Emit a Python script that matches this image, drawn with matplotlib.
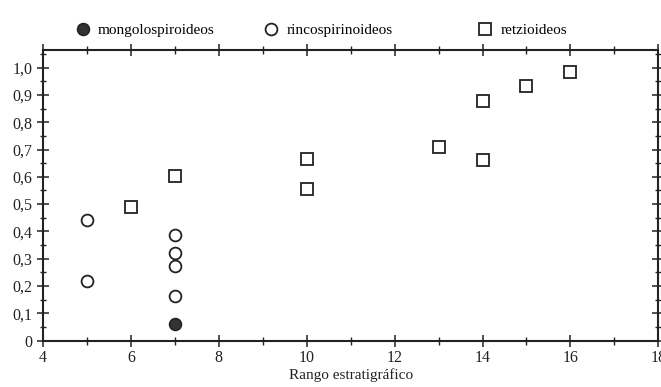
import matplotlib
matplotlib.use("Agg")
import matplotlib.pyplot as plt
from matplotlib.legend import Legend
from matplotlib.ticker import MultipleLocator, FixedLocator

# data
mongo_x = [7]
mongo_y = [0.06]

rinco_x = [5, 5, 7, 7, 7, 7]
rinco_y = [0.44, 0.22, 0.385, 0.32, 0.272, 0.165]

retz_x = [6, 7, 10, 10, 13, 14, 14, 15, 16]
retz_y = [0.49, 0.603, 0.664, 0.556, 0.711, 0.879, 0.662, 0.934, 0.985]

x_ticks = [4, 6, 8, 10, 12, 14, 16, 18]
y_ticks = [0, 0.1, 0.2, 0.3, 0.4, 0.5, 0.6, 0.7, 0.8, 0.9, 1.0]
y_labels = ["0", "0,1", "0,2", "0,3", "0,4", "0,5", "0,6", "0,7", "0,8", "0,9", "1,0"]

plt.rcParams['font.family'] = ['Liberation Serif', 'DejaVu Serif']

fig = plt.figure(figsize=(6.61, 3.87), dpi=100)
ax = fig.add_axes([0.065, 0.12, 0.931, 0.751])

ms = 8.5
h1, = ax.plot(mongo_x, mongo_y, 'o', ms=ms, mfc='#333333', mec='#222222', mew=1.2, ls='none')
h2, = ax.plot(rinco_x, rinco_y, 'o', ms=ms, mfc='white', mec='#222222', mew=1.3, ls='none')
h3, = ax.plot(retz_x, retz_y, 's', ms=ms, mfc='white', mec='#222222', mew=1.3, ls='none')

ax.set_xlim(4, 18)
ax.set_ylim(0, 1.065)

ax.xaxis.set_major_locator(FixedLocator(x_ticks))
ax.xaxis.set_minor_locator(MultipleLocator(1))
ax.yaxis.set_major_locator(FixedLocator(y_ticks))
ax.yaxis.set_minor_locator(MultipleLocator(0.05))
ax.set_yticklabels(y_labels)

ax.tick_params(which='major', direction='inout', length=9, width=1.1,
               top=True, right=True, labelsize=11.5, color='#222222', labelcolor='#222222')
ax.tick_params(axis='x', which='minor', direction='inout', length=6, width=1.0,
               top=True, color='#222222')
ax.tick_params(axis='y', which='minor', direction='inout', length=4, width=1.0,
               right=True, color='#222222')
ax.tick_params(axis='x', which='major', pad=2)
ax.tick_params(axis='y', which='major', pad=3)

for s in ax.spines.values():
    s.set_linewidth(1.5)
    s.set_color('#222222')

ax.set_xlabel("Rango estratigráfico", fontsize=11, color='#222222', labelpad=2)

# legend entries placed above the frame, one small legend each
entries = [(h1, "mongolospiroideos", 0.052),
           (h2, "rincospirinoideos", 0.358),
           (h3, "retzioideos", 0.706)]
for h, lab, xpos in entries:
    lg = Legend(ax, [h], [lab], loc='center left',
                bbox_to_anchor=(xpos, 1.068), frameon=False,
                fontsize=11, handlelength=1.0, handletextpad=0.5,
                borderaxespad=0, borderpad=0)
    ax.add_artist(lg)

fig.savefig("out.png", dpi=100)
